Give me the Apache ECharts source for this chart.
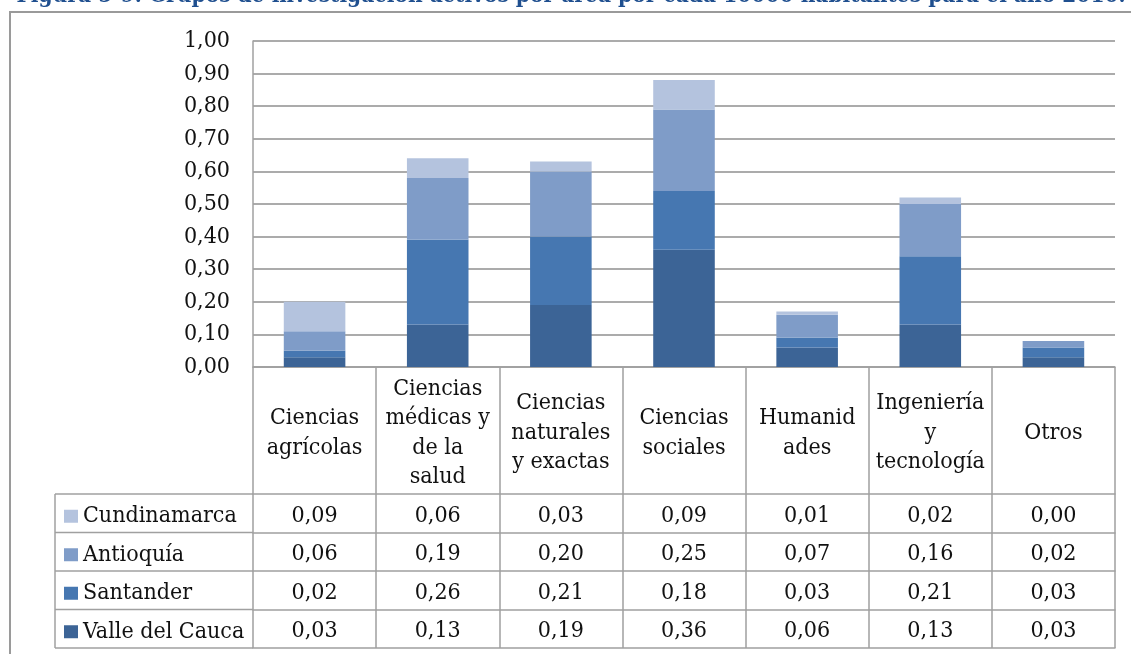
<!DOCTYPE html>
<html>
<head>
<meta charset="utf-8">
<script src="https://cdn.jsdelivr.net/npm/echarts@6/dist/echarts.min.js"></script>
<style>
html,body{margin:0;padding:0;background:#fff;}
#chart{width:1131px;height:654px;}
</style>
</head>
<body>
<div id="chart"></div>
<script>
var titleText = 'Figura 5-9. Grupos de investigación activos por área por cada 10000 habitantes para el año 2010.';
var categories = ['Ciencias agrícolas', 'Ciencias médicas y de la salud', 'Ciencias naturales y exactas', 'Ciencias sociales', 'Humanidades', 'Ingeniería y tecnología', 'Otros'];
var categoryLabels = ['Ciencias\nagrícolas', 'Ciencias\nmédicas y\nde la\nsalud', 'Ciencias\nnaturales\ny exactas', 'Ciencias\nsociales', 'Humanid\nades', 'Ingeniería\ny\ntecnología', 'Otros'];
var seriesNames = ['Valle del Cauca', 'Santander', 'Antioquía', 'Cundinamarca'];
var valleDelCauca = [0.03, 0.13, 0.19, 0.36, 0.06, 0.13, 0.03];
var santander     = [0.02, 0.26, 0.21, 0.18, 0.03, 0.21, 0.03];
var antioquia     = [0.06, 0.19, 0.20, 0.25, 0.07, 0.16, 0.02];
var cundinamarca  = [0.09, 0.06, 0.03, 0.09, 0.01, 0.02, 0.00];
var yTicks = [0, 0.1, 0.2, 0.3, 0.4, 0.5, 0.6, 0.7, 0.8, 0.9, 1.0];

var seriesValues = [valleDelCauca, santander, antioquia, cundinamarca];
var colors = ['#3c6496', '#4677b1', '#7f9cc8', '#b4c3de'];
var tableRows = [3, 2, 1, 0]; // table row order: Cundinamarca, Antioquía, Santander, Valle del Cauca

var FONT = "'DejaVu Serif Condensed', 'Liberation Serif', serif";
var FS = 23;
var TXT = '#111111';
var LINE = '#a0a0a0';
var GRID_L = 253, GRID_R = 1115, GRID_T = 41, GRID_B = 367;
var HEAD_H = 127, ROW_H = 38.5;
var LEG_X = 55;

function fmt(v) { return v.toFixed(2).replace('.', ','); }

var chart = echarts.init(document.getElementById('chart'), null, {renderer: 'canvas'});

var xAxes = [{
  type: 'category', data: categories, gridIndex: 0, position: 'bottom',
  axisLine: {show: true, lineStyle: {color: LINE, width: 1.5}},
  axisTick: {show: true, length: HEAD_H, lineStyle: {color: LINE, width: 1.5}},
  axisLabel: {
    interval: 0, margin: HEAD_H / 2 + 2.5, verticalAlign: 'middle', align: 'center',
    fontFamily: FONT, fontSize: FS, color: TXT, lineHeight: 29.5,
    formatter: function (v, i) { return categoryLabels[i]; }
  },
  splitLine: {show: false}
}];
tableRows.forEach(function (si, r) {
  xAxes.push({
    type: 'category', data: categories, gridIndex: 0, position: 'bottom',
    offset: HEAD_H + ROW_H * r,
    axisLine: {show: true, lineStyle: {color: LINE, width: 1.5}},
    axisTick: {show: true, length: ROW_H, lineStyle: {color: LINE, width: 1.5}},
    axisLabel: {
      interval: 0, margin: ROW_H / 2 + 2.5, verticalAlign: 'middle', align: 'center',
      fontFamily: FONT, fontSize: FS, color: TXT,
      formatter: function (v, i) { return fmt(seriesValues[si][i]); }
    },
    splitLine: {show: false}
  });
});
xAxes.push({
  type: 'category', data: categories, gridIndex: 0, position: 'bottom',
  offset: HEAD_H + ROW_H * 4,
  axisLine: {show: true, lineStyle: {color: LINE, width: 1.5}},
  axisTick: {show: false}, axisLabel: {show: false}, splitLine: {show: false}
});

var graphics = [
  {type: 'rect', shape: {x: 10, y: 12, width: 1300, height: 800}, style: {fill: 'none', stroke: '#9a9a9a', lineWidth: 2}, silent: true},
  {type: 'text', x: 571, y: 8, style: {text: titleText, fontFamily: FONT, fontWeight: 'bold', fontSize: 22.5, fill: '#1f4f8f', textAlign: 'center', textVerticalAlign: 'bottom'}, silent: true}
];
var tableTop = GRID_B + HEAD_H;
for (var k = 0; k <= 4; k++) {
  graphics.push({type: 'line', shape: {x1: LEG_X, y1: tableTop + ROW_H * k, x2: GRID_L, y2: tableTop + ROW_H * k}, style: {stroke: LINE, lineWidth: 1.5}, silent: true});
}
graphics.push({type: 'line', shape: {x1: LEG_X, y1: tableTop, x2: LEG_X, y2: tableTop + ROW_H * 4}, style: {stroke: LINE, lineWidth: 1.5}, silent: true});

var option = {
  animation: false,
  backgroundColor: '#ffffff',
  grid: {left: GRID_L, right: 1131 - GRID_R, top: GRID_T, bottom: 654 - GRID_B, containLabel: false},
  legend: {
    orient: 'vertical', left: 59, top: tableTop + ROW_H / 2 - 14,
    data: [seriesNames[3], seriesNames[2], seriesNames[1], seriesNames[0]],
    icon: 'rect', itemWidth: 14, itemHeight: 13, itemGap: ROW_H - 24,
    textStyle: {fontFamily: FONT, fontSize: FS, color: TXT, lineHeight: 24},
    selectedMode: false
  },
  xAxis: xAxes,
  yAxis: {
    type: 'value', min: 0, max: 1, interval: 0.1,
    axisLine: {show: true, lineStyle: {color: LINE, width: 1.5}},
    axisTick: {show: false},
    splitLine: {show: true, lineStyle: {color: '#8f8f8f', width: 1.5}},
    axisLabel: {margin: 23, fontFamily: FONT, fontSize: FS, color: TXT, formatter: function (v) { return fmt(v); }}
  },
  series: seriesNames.map(function (n, i) {
    return {
      name: n, type: 'bar', stack: 'total', barWidth: '50%', xAxisIndex: 0,
      data: seriesValues[i], itemStyle: {color: colors[i]}
    };
  }),
  graphic: graphics
};
chart.setOption(option);
</script>
</body>
</html>
